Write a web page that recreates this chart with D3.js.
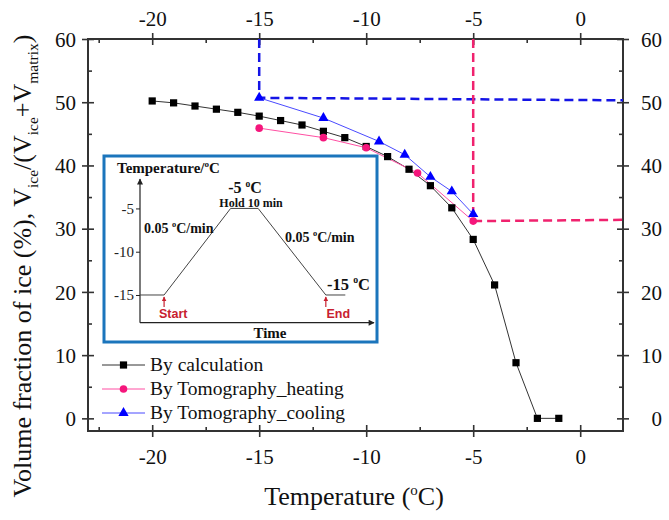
<!DOCTYPE html>
<html>
<head>
<meta charset="UTF-8"/>
<script src="https://d3js.org/d3.v7.min.js"></script>
<style>
  body { margin: 0; background: #fff; }
  svg { display: block; }
</style>
</head>
<body>
<script>
  // values
  var calcT = [-20, -19, -18, -17, -16, -15, -14, -13, -12, -11, -10, -9, -8, -7, -6, -5, -4, -3, -2, -1];
  var calcV = [50.2, 49.9, 49.4, 48.9, 48.4, 47.8, 47.1, 46.4, 45.4, 44.4, 43.0, 41.4, 39.4, 36.8, 33.3, 28.3, 21.1, 8.8, 0, 0];
  var heatT = [-15, -12, -10, -7.6, -5];
  var heatV = [45.9, 44.4, 42.8, 38.8, 31.2];
  var coolT = [-15, -12, -9.4, -8.2, -7, -6, -5];
  var coolV = [50.7, 47.5, 43.8, 41.7, 38.2, 35.9, 32.3];
  var blueGuideT = [-15, -15, 2];
  var blueGuideV = [60, 50.7, 50.3];
  var pinkGuideT = [-5, -5, 2];
  var pinkGuideV = [60, 31.2, 31.4];
  var seriesNames = ["By calculation", "By Tomography_heating", "By Tomography_cooling"];
  var xMajor = [-20, -15, -10, -5, 0];
  var xMinor = [-22.5, -17.5, -12.5, -7.5, -2.5];
  var yMajor = [0, 10, 20, 30, 40, 50, 60];
  var yMinor = [5, 15, 25, 35, 45, 55];

  // inset: temperature program
  var insetTime = [0, 10.5, 39.5, 51.5, 81, 89.5];
  var insetTemp = [-15, -15, -5, -5, -15, -15];
  var insetTicks = [-5, -10, -15];

  var serif = "'Liberation Serif', 'Times New Roman', serif";
  var pLeft = 88, pRight = 623, pTop = 39, pBottom = 431;

  var x = d3.scaleLinear().domain([-23, 2]).range([pLeft, pRight]);
  var y = d3.scaleLinear().domain([-2, 60]).range([pBottom, pTop]);
  var plain = function(d) { return String(d); };

  var svg = d3.select("body").append("svg")
    .attr("width", 669)
    .attr("height", 520)
    .style("font-family", serif);

  var defs = svg.append("defs");
  function arrowMarker(id, color, w, h) {
    defs.append("marker")
      .attr("id", id)
      .attr("viewBox", "0 0 10 10")
      .attr("refX", 9).attr("refY", 5)
      .attr("markerWidth", w).attr("markerHeight", h)
      .attr("markerUnits", "userSpaceOnUse")
      .attr("orient", "auto")
      .append("path")
      .attr("d", "M0,0 L10,5 L0,10 Z")
      .attr("fill", color);
  }
  arrowMarker("arrBlack", "#222", 7, 6);
  arrowMarker("arrRed", "#c8202f", 5, 5);

  // frame
  svg.append("rect")
    .attr("x", pLeft).attr("y", pTop)
    .attr("width", pRight - pLeft).attr("height", pBottom - pTop)
    .attr("fill", "none").attr("stroke", "#333").attr("stroke-width", 2);

  function styleAxis(g) {
    g.select(".domain").remove();
    g.selectAll("line").attr("stroke", "#333").attr("stroke-width", 1.6);
    g.selectAll("text").attr("font-size", 21).attr("fill", "#111").style("font-family", serif);
  }

  // major axes (ticks cross the frame)
  svg.append("g").attr("transform", "translate(0," + pBottom + ")")
    .call(d3.axisBottom(x).tickValues(xMajor).tickSize(6).tickFormat(plain))
    .call(styleAxis)
    .call(function(g) {
      g.selectAll(".tick line").attr("y1", -6);
      g.selectAll(".tick text").attr("y", 32.5).attr("dy", 0);
    });
  svg.append("g").attr("transform", "translate(0," + pTop + ")")
    .call(d3.axisTop(x).tickValues(xMajor).tickSize(6).tickFormat(plain))
    .call(styleAxis)
    .call(function(g) {
      g.selectAll(".tick line").attr("y1", 6);
      g.selectAll(".tick text").attr("y", -13.5).attr("dy", 0);
    });
  svg.append("g").attr("transform", "translate(" + pLeft + ",0)")
    .call(d3.axisLeft(y).tickValues(yMajor).tickSize(6).tickFormat(plain))
    .call(styleAxis)
    .call(function(g) {
      g.selectAll(".tick line").attr("x1", 6);
      g.selectAll(".tick text").attr("x", -12).attr("dy", "0.34em");
    });
  svg.append("g").attr("transform", "translate(" + pRight + ",0)")
    .call(d3.axisRight(y).tickValues(yMajor).tickSize(6).tickFormat(plain))
    .call(styleAxis)
    .call(function(g) {
      g.selectAll(".tick line").attr("x1", -6);
      g.selectAll(".tick text").attr("x", 39).attr("text-anchor", "end").attr("dy", "0.34em");
    });

  // minor ticks, inward
  svg.append("g").attr("transform", "translate(0," + pBottom + ")")
    .call(d3.axisBottom(x).tickValues(xMinor).tickSize(-4).tickFormat("")).call(styleAxis);
  svg.append("g").attr("transform", "translate(0," + pTop + ")")
    .call(d3.axisTop(x).tickValues(xMinor).tickSize(-4).tickFormat("")).call(styleAxis);
  svg.append("g").attr("transform", "translate(" + pLeft + ",0)")
    .call(d3.axisLeft(y).tickValues(yMinor).tickSize(-4).tickFormat("")).call(styleAxis);
  svg.append("g").attr("transform", "translate(" + pRight + ",0)")
    .call(d3.axisRight(y).tickValues(yMinor).tickSize(-4).tickFormat("")).call(styleAxis);

  // axis titles
  var xt = svg.append("text")
    .attr("x", 354).attr("y", 505)
    .attr("text-anchor", "middle")
    .attr("font-size", 26).attr("fill", "#111");
  xt.append("tspan").text("Temperature (");
  xt.append("tspan").attr("dy", -10).attr("font-size", 15).text("o");
  xt.append("tspan").attr("dy", 10).text("C)");

  var yt = svg.append("text")
    .attr("transform", "translate(31,266) rotate(-90)")
    .attr("text-anchor", "middle")
    .attr("font-size", 26).attr("fill", "#111");
  yt.append("tspan").text("Volume fraction of ice (%), V");
  yt.append("tspan").attr("dy", 7).attr("font-size", 15.5).text("ice");
  yt.append("tspan").attr("dy", -7).text("/(V");
  yt.append("tspan").attr("dy", 7).attr("font-size", 15.5).text("ice");
  yt.append("tspan").attr("dy", -7).text("+V");
  yt.append("tspan").attr("dy", 7).attr("font-size", 15.5).text("matrix");
  yt.append("tspan").attr("dy", -7).text(")");

  function pairs(ts, vs) {
    return ts.map(function(t, i) { return [t, vs[i]]; });
  }
  var line = d3.line()
    .x(function(d) { return x(d[0]); })
    .y(function(d) { return y(d[1]); });

  // dashed guides
  svg.append("path").datum(pairs(blueGuideT, blueGuideV))
    .attr("d", line).attr("fill", "none")
    .attr("stroke", "#1414e6").attr("stroke-width", 2.5).attr("stroke-dasharray", "9,5");
  svg.append("path").datum(pairs(pinkGuideT, pinkGuideV))
    .attr("d", line).attr("fill", "none")
    .attr("stroke", "#f0226e").attr("stroke-width", 2.5).attr("stroke-dasharray", "9,5");

  var series = [
    {name: seriesNames[0], data: pairs(calcT, calcV), line: "#333", fill: "#000", shape: "square"},
    {name: seriesNames[1], data: pairs(heatT, heatV), line: "#ff4fa3", fill: "#f5167c", shape: "circle"},
    {name: seriesNames[2], data: pairs(coolT, coolV), line: "#4a4aff", fill: "#0000ff", shape: "triangle"}
  ];

  function drawMarker(g, shape, color) {
    if (shape == "square") {
      g.append("rect").attr("x", -3.6).attr("y", -3.6).attr("width", 7.2).attr("height", 7.2).attr("fill", color);
    } else if (shape == "circle") {
      g.append("circle").attr("r", 3.8).attr("fill", color);
    } else {
      g.append("path").attr("d", d3.symbol(d3.symbolTriangle).size(46)()).attr("fill", color);
    }
  }

  series.forEach(function(s) {
    svg.append("path").datum(s.data)
      .attr("d", line).attr("fill", "none")
      .attr("stroke", s.line).attr("stroke-width", 1);
  });
  series.forEach(function(s) {
    svg.append("g").selectAll("g")
      .data(s.data).enter().append("g")
      .attr("transform", function(d) { return "translate(" + x(d[0]) + "," + y(d[1]) + ")"; })
      .each(function() { drawMarker(d3.select(this), s.shape, s.fill); });
  });

  // legend
  var legend = svg.append("g").selectAll("g")
    .data(series).enter().append("g")
    .attr("transform", function(d, i) { return "translate(102," + (365 + i * 24) + ")"; });
  legend.append("line")
    .attr("x1", 0).attr("x2", 43)
    .attr("stroke", function(d) { return d.line; }).attr("stroke-width", 1);
  legend.append("g").attr("transform", "translate(21.5,0)")
    .each(function(d) { drawMarker(d3.select(this), d.shape, d.fill); });
  legend.append("text")
    .attr("x", 48).attr("dy", "0.33em")
    .attr("font-size", 19.5).attr("fill", "#111")
    .text(function(d) { return d.name; });

  // inset
  var inset = svg.append("g");
  inset.append("rect")
    .attr("x", 104).attr("y", 156).attr("width", 273).attr("height", 186)
    .attr("fill", "#fff").attr("stroke", "#1b75bc").attr("stroke-width", 3);

  var tScale = d3.scaleLinear().domain([0, 102]).range([140, 374]);
  var TScale = d3.scaleLinear().domain([-18.2, -1.6]).range([322.7, 179]);

  inset.append("g").attr("transform", "translate(140,0)")
    .call(d3.axisLeft(TScale).tickValues(insetTicks).tickSize(4).tickFormat(plain))
    .call(function(g) {
      g.select(".domain").remove();
      g.selectAll("line").attr("stroke", "#222");
      g.selectAll("text").attr("font-size", 15).attr("fill", "#222").style("font-family", serif).attr("x", -6);
    });
  inset.append("line")
    .attr("x1", 140).attr("x2", 140).attr("y1", TScale.range()[0]).attr("y2", TScale.range()[1])
    .attr("stroke", "#222").attr("stroke-width", 1.2).attr("marker-end", "url(#arrBlack)");
  inset.append("line")
    .attr("x1", tScale.range()[0]).attr("x2", tScale.range()[1]).attr("y1", 322.7).attr("y2", 322.7)
    .attr("stroke", "#222").attr("stroke-width", 1.2).attr("marker-end", "url(#arrBlack)");

  inset.append("path").datum(pairs(insetTime, insetTemp))
    .attr("d", d3.line().x(function(d) { return tScale(d[0]); }).y(function(d) { return TScale(d[1]); }))
    .attr("fill", "none").attr("stroke", "#444").attr("stroke-width", 1);

  function insetText(xp, yp, size, anchor, parts) {
    var t = inset.append("text")
      .attr("x", xp).attr("y", yp)
      .attr("text-anchor", anchor)
      .attr("font-size", size).attr("font-weight", "bold").attr("fill", "#111");
    var shift = 0;
    parts.forEach(function(p) {
      if (p.sup) {
        t.append("tspan").attr("dy", -size * 0.4).attr("font-size", size * 0.6).text(p.sup);
        shift = size * 0.4;
      } else {
        t.append("tspan").attr("dy", shift).text(p.t);
        shift = 0;
      }
    });
    return t;
  }
  insetText(117, 173, 15, "start", [{t: "Temperature/"}, {sup: "o"}, {t: "C"}]);
  insetText(245, 193, 16, "middle", [{t: "-5 "}, {sup: "o"}, {t: "C"}]);
  insetText(251, 206.5, 12, "middle", [{t: "Hold 10 min"}]);
  insetText(144, 233, 14, "start", [{t: "0.05 "}, {sup: "o"}, {t: "C/min"}]);
  insetText(285, 242, 14, "start", [{t: "0.05 "}, {sup: "o"}, {t: "C/min"}]);
  insetText(327, 289.5, 16.5, "start", [{t: "-15 "}, {sup: "o"}, {t: "C"}]);
  insetText(270, 338, 15, "middle", [{t: "Time"}]);

  var marks = [
    {label: "Start", t: insetTime[1], x0: 159},
    {label: "End", t: insetTime[4], x0: 326.5}
  ];
  marks.forEach(function(m) {
    inset.append("line")
      .attr("x1", tScale(m.t)).attr("x2", tScale(m.t))
      .attr("y1", TScale(-15) + 12).attr("y2", TScale(-15) + 2)
      .attr("stroke", "#c8202f").attr("stroke-width", 1.2).attr("marker-end", "url(#arrRed)");
    inset.append("text")
      .attr("x", m.x0).attr("y", 317.5)
      .attr("font-size", 12.5).attr("font-weight", "bold")
      .style("font-family", "'Liberation Sans', Arial, sans-serif")
      .attr("fill", "#c8202f")
      .text(m.label);
  });
</script>
</body>
</html>
